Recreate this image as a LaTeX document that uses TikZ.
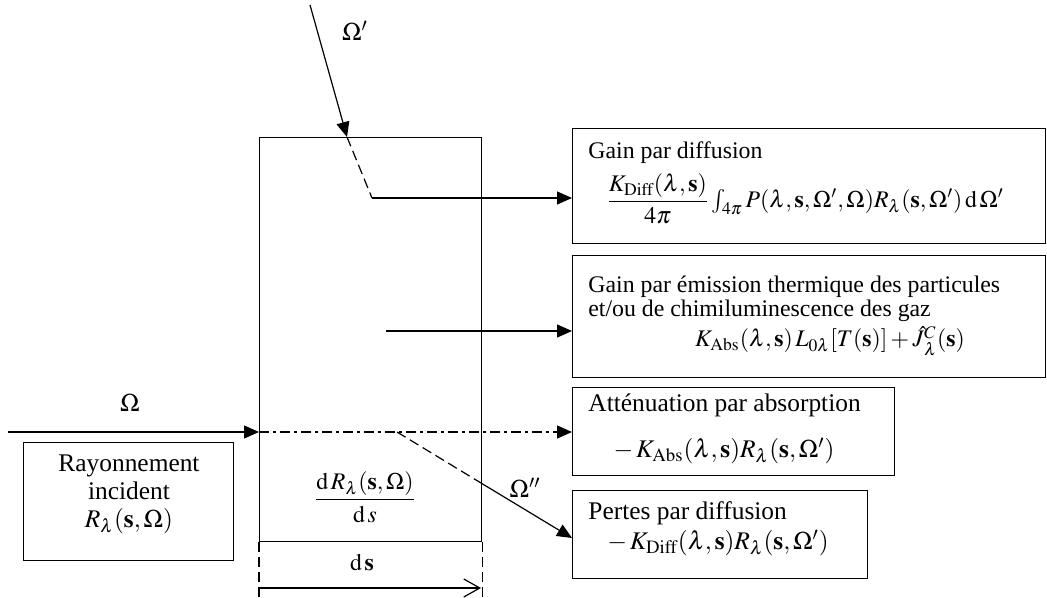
\documentclass[tikz,border=0pt]{standalone}
\usepackage{amsmath}
\usepackage{mathptmx}
\usepackage{fontspec}
\setmainfont{Liberation Serif}
\usetikzlibrary{arrows.meta}

\begin{document}
\begin{tikzpicture}[
    x=0.5pt, y=-0.5pt,
    cadre/.style={draw, line width=0.6pt, inner sep=0pt, anchor=north west},
    txt/.style={inner sep=0pt, font=\fontsize{11.9pt}{12pt}\selectfont},
    txtb/.style={inner sep=0pt, font=\fontsize{12.7pt}{14pt}\selectfont},
    arrow/.style={-{Triangle[length=7.5pt,width=6.5pt]}, line width=0.6pt},
    trait/.style={line width=0.6pt, dash pattern=on 5pt off 2.5pt},
    mixte/.style={line width=0.6pt, dash pattern=on 5pt off 2pt on 1.5pt off 2pt}
]
\useasboundingbox (0,0) rectangle (1047,598);

% volume element and boxes
\node[cadre, minimum width=111pt, minimum height=202pt] (cell) at (259,137) {};
\node[cadre, minimum width=236.5pt, minimum height=57.5pt] (gain) at (572,128) {};
\node[cadre, minimum width=236.5pt, minimum height=61pt] (emis) at (572,255) {};
\node[cadre, minimum width=161pt, minimum height=44pt] (absorp) at (572,387) {};
\node[cadre, minimum width=147.5pt, minimum height=44pt] (pertes) at (572,490) {};
\node[cadre, minimum width=105pt, minimum height=59pt] (incid) at (23,442) {};

% texts
\node[txt, anchor=west] (gaintitle) at (588,153) {Gain par diffusion};
\node[txt, anchor=west] (gainform) at (606,199) {$\dfrac{K_{\mathrm{Diff}}(\lambda,\mathbf{s})}{4\pi}\int\nolimits_{4\pi}P(\lambda,\mathbf{s},\Omega',\Omega)R_\lambda(\mathbf{s},\Omega')\,\mathrm{d}\,\Omega'$};
\node[txt, anchor=west, align=left] (emistitle) at (588,299) {Gain par émission thermique des particules\\et/ou de chimiluminescence des gaz};
\node[txt] (emisform) at (830,341) {$K_{\mathrm{Abs}}(\lambda,\mathbf{s})\,L_{0\lambda}[T(\mathbf{s})]+\hat{J}{}^{C}_{\lambda}(\mathbf{s})$};
\node[txtb, anchor=west] (abstitle) at (588,405) {Atténuation par absorption};
\node[txtb] (absform) at (724,451) {$-\,K_{\mathrm{Abs}}(\lambda,\mathbf{s})R_\lambda(\mathbf{s},\Omega')$};
\node[txtb, anchor=west] (pertitle) at (588,513) {Pertes par diffusion};
\node[txtb] (perform) at (718,543) {$-\,K_{\mathrm{Diff}}(\lambda,\mathbf{s})R_\lambda(\mathbf{s},\Omega')$};
\node[txtb, align=center] (incidtext) at (129,494) {Rayonnement\\incident\\$R_\lambda(\mathbf{s},\Omega)$};
\node[txt] (deriv) at (365,497) {$\dfrac{\mathrm{d}\,R_\lambda(\mathbf{s},\Omega)}{\mathrm{d}\,s}$};
\node[txt] (ds) at (362,563) {$\mathrm{d}\,\mathbf{s}$};
\node[txtb] (omega) at (130,403) {$\Omega$};
\node[txtb] (omega1) at (355,31) {$\Omega'$};
\node[txtb] (omega2) at (525,488) {$\Omega''$};

% gain by scattering
\coordinate (src1) at (310,5);
\coordinate (in1) at (347,137);
\coordinate (k1) at (372,198);
\draw[arrow] (src1) -- (in1);
\draw[trait] (in1) -- (k1);
\draw[arrow] (k1) -- (k1 -| gain.west);

% emission
\coordinate (e1) at (386,331);
\draw[arrow] (e1) -- (e1 -| emis.west);

% incident and absorption
\coordinate (src2) at (8,432);
\coordinate (in2) at (src2 -| cell.west);
\draw[arrow] (src2) -- (in2);
\draw[arrow, mixte] (in2) -- (in2 -| absorp.west);

% losses by scattering
\coordinate (d1) at (397,432);
\coordinate (d2) at (481,483);
\coordinate (d3) at (572,538);
\draw[trait] (d1) -- (d2);
\draw[arrow] (d2) -- (d3);

% thickness
\draw[trait] (cell.south west) -- ++(0,57);
\draw[trait] (cell.south east) -- ++(0,57);
\coordinate (m1) at (259,588);
\coordinate (m2) at (481,588);
\draw[-{Straight Barb[length=8pt,width=9pt]}, line width=0.6pt] (m1) -- (m2);

\end{tikzpicture}
\end{document}
